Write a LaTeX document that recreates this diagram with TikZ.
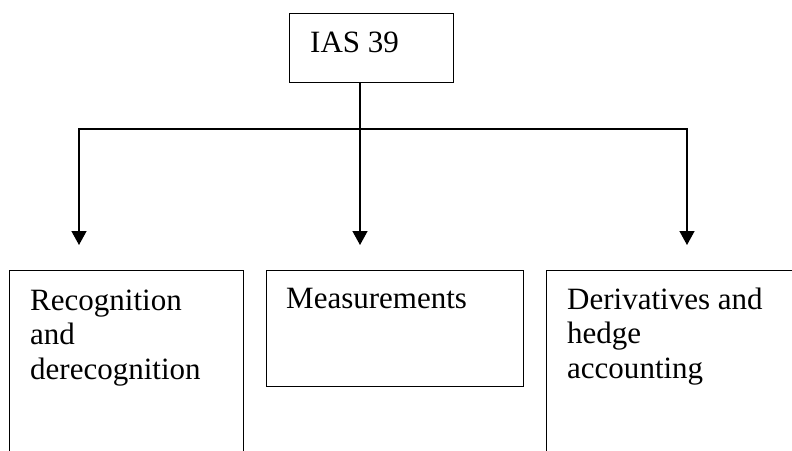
\documentclass[tikz,border=0pt]{standalone}
\usepackage{fontspec}
\setmainfont{Liberation Serif}
\usetikzlibrary{arrows.meta,calc,positioning}
\tikzset{
  box/.style={draw,line width=1.4pt,inner sep=0,anchor=north west},
  boxtext/.style={anchor=north west,inner sep=0,align=left,font=\fontsize{31}{34.5}\selectfont},
  arr/.style={line width=1.4pt,-{Triangle[length=14pt,width=15pt]}}
}
\begin{document}
\begin{tikzpicture}[x=1pt,y=-1pt]
\clip (0,0) rectangle (792,450);
\node[box,minimum width=164pt,minimum height=69pt] (ias) at (289,13) {};
\node[boxtext] (iastext) at ($(ias.north west)+(21,15)$) {\strut IAS 39};
\node[box,minimum width=234pt,minimum height=220pt] (recog) at (9,270) {};
\node[boxtext] (recogtext) at ($(recog.north west)+(21,16)$) {\strut Recognition\\and\\derecognition};
\node[box,minimum width=257pt,minimum height=116pt] (meas) at (266,270) {};
\node[boxtext] (meastext) at ($(meas.north west)+(20,14)$) {\strut Measurements};
\node[box,minimum width=260pt,minimum height=220pt] (deriv) at (546,270) {};
\node[boxtext] (derivtext) at ($(deriv.north west)+(21,15)$) {\strut Derivatives and\\hedge\\accounting};
\coordinate (hub) at (360,129);
\coordinate (tipl) at (79,245);
\coordinate (tipm) at (360,245);
\coordinate (tipr) at (687,245);
\draw[arr] (ias.south -| hub) -- (tipm);
\draw[arr] (hub) -| (tipl);
\draw[arr] (hub) -| (tipr);
\end{tikzpicture}
\end{document}
